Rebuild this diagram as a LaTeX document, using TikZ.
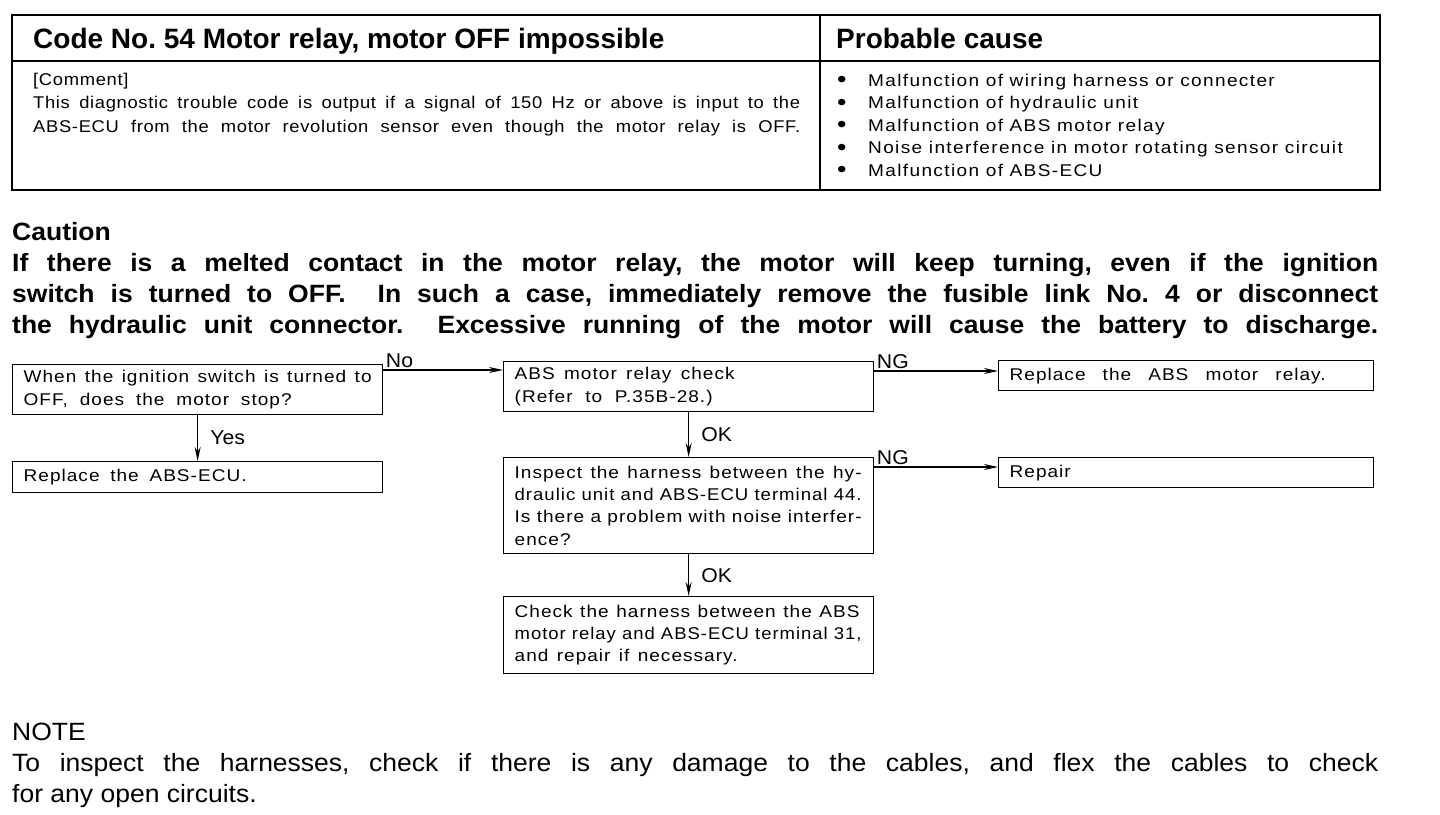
\documentclass[tikz,border=0pt]{standalone}
\usepackage{fontspec}
\usepackage{graphicx}
\setmainfont{Liberation Sans}
\newfontfamily\boxfont[FakeStretch=1.12,LetterSpace=6]{Liberation Sans}
\newfontfamily\causefont[FakeStretch=1.12,LetterSpace=8]{Liberation Sans}
\newfontfamily\cmtfont[FakeStretch=1.08,LetterSpace=4]{Liberation Sans}
\newfontfamily\widefont[FakeStretch=1.06]{Liberation Sans}
\usetikzlibrary{arrows.meta,positioning}
\frenchspacing

\tikzset{
  box/.style={draw, line width=1.3pt, anchor=north west, minimum width=370pt,
    text width=348pt, inner xsep=11pt, inner ysep=2pt, align=left,
    font=\boxfont\fontsize{17}{22.3}\selectfont},
  wbox/.style={box, minimum width=375pt, text width=353pt},
  flow/.style={line width=1.3pt, -{Stealth[length=14pt,width=6pt]}},
  tag/.style={font=\widefont\fontsize{20}{20}\selectfont, inner sep=2pt},
  line/.style={anchor=base west, inner sep=0pt, align=left},
}
\newsavebox\linebox
\newcommand{\fitline}[2]{\sbox\linebox{\spaceskip=0pt\xspaceskip=0pt #2}%
  \ifdim\wd\linebox>#1pt\resizebox{#1pt}{\height}{\usebox\linebox}%
  \else\makebox[#1pt][s]{\spaceskip=0pt\xspaceskip=0pt #2}\fi}
\newcommand{\dotmark}{\makebox[31pt][l]{\raisebox{-1.5pt}{\fontsize{24}{0}\selectfont •}}}

\begin{document}
\begin{tikzpicture}[x=1pt, y=-1pt]
  \useasboundingbox (0,0) rectangle (1440,814);

  % table
  \draw[line width=2pt] (12,15) rectangle (1380,190);
  \draw[line width=1.5pt] (12,61) -- (1380,61);
  \draw[line width=1.5pt] (820,15) -- (820,190);
  \node[line, font=\bfseries\fontsize{28}{28}\selectfont] (code) at (33,48)
    {Code No. 54 Motor relay, motor OFF impossible};
  \node[line, font=\bfseries\fontsize{28}{28}\selectfont] (cause) at (836,48)
    {Probable cause};
  \node[line, font=\cmtfont\fontsize{17}{23.5}\selectfont] (cmt) at (33,132)
    {[Comment]\\
     \fitline{767}{This diagnostic trouble code is output if a signal of 150 Hz or above is input to the}\\
     \fitline{767}{ABS-ECU from the motor revolution sensor even though the motor relay is OFF.}};
  \node[line, font=\causefont\fontsize{17}{22.5}\selectfont] (causes) at (837,176)
    {\dotmark Malfunction of wiring harness or connecter\\
     \dotmark Malfunction of hydraulic unit\\
     \dotmark Malfunction of ABS motor relay\\
     \dotmark Noise interference in motor rotating sensor circuit\\
     \dotmark Malfunction of ABS-ECU};

  % caution
  \node[line, font=\widefont\bfseries\fontsize{25}{31}\selectfont] (caution) at (12,333)
    {Caution\\
     \fitline{1366}{If there is a melted contact in the motor relay, the motor will keep turning, even if the ignition}\\
     \fitline{1366}{switch is turned to OFF.\ \ In such a case, immediately remove the fusible link No. 4 or disconnect}\\
     \fitline{1366}{the hydraulic unit connector.\ \ Excessive running of the motor will cause the battery to discharge.}};

  % flow
  \node[box, minimum height=50pt] (ign) at (12,364)
    {\fitline{348}{When the ignition switch is turned to}\\\fitline{268}{OFF, does the motor stop?}};
  \node[box, minimum height=31pt] (ecu) at (12,461) {\fitline{223}{Replace the ABS-ECU.}};
  \node[box, minimum height=50pt] (relay) at (503,361)
    {\fitline{220}{ABS motor relay check}\\\fitline{198}{(Refer to P.35B-28.)}};
  \node[wbox, minimum height=30pt] (swap) at (998,360)
    {\fitline{316}{Replace the ABS motor relay.}};
  \node[box, minimum height=96pt] (noise) at (503,457)
    {\fitline{347}{Inspect the harness between the hy-}\\
     \fitline{347}{draulic unit and ABS-ECU terminal 44.}\\
     \fitline{347}{Is there a problem with noise interfer-}\\ence?};
  \node[wbox, minimum height=30pt] (repair) at (998,457) {Repair};
  \node[box, minimum height=77pt] (wire) at (503,596)
    {\fitline{345}{Check the harness between the ABS}\\
     \fitline{347}{motor relay and ABS-ECU terminal 31,}\\
     \fitline{223}{and repair if necessary.}};

  \draw[flow] ([yshift=-6pt]ign.north east) -- ([yshift=-6pt]ign.north east -| relay.west)
    node[tag, pos=0, above right] {No};
  \draw[flow] (ign) -- (ecu) node[tag, midway, right=10pt] {Yes};
  \draw[flow] ([yshift=-10pt]relay.north east) -- ([yshift=-10pt]relay.north east -| swap.west)
    node[tag, pos=0, above right] {NG};
  \draw[flow] (relay) -- (noise) node[tag, midway, right=10pt] {OK};
  \draw[flow] ([yshift=-10pt]noise.north east) -- ([yshift=-10pt]noise.north east -| repair.west)
    node[tag, pos=0, above right] {NG};
  \draw[flow] (noise) -- (wire) node[tag, midway, right=10pt] {OK};

  % note
  \node[line, font=\widefont\fontsize{25}{31}\selectfont] (note) at (12,802)
    {NOTE\\
     \fitline{1366}{To inspect the harnesses, check if there is any damage to the cables, and flex the cables to check}\\
     for any open circuits.};
\end{tikzpicture}
\end{document}
